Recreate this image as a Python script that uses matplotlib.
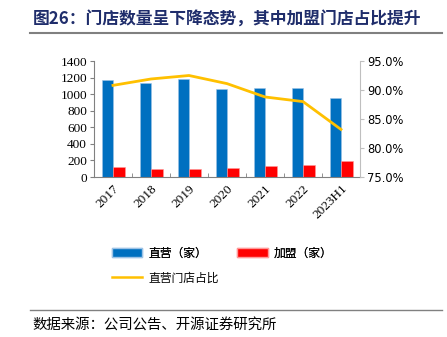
import matplotlib
matplotlib.use("Agg")
import matplotlib.pyplot as plt
import numpy as np
from matplotlib.patches import Patch
from matplotlib.lines import Line2D

categories = ["2017", "2018", "2019", "2020", "2021", "2022", "2023H1"]
direct = [1170, 1140, 1180, 1060, 1080, 1080, 950]
franchise = [120, 100, 95, 105, 136, 148, 193]
direct_ratio = [90.8, 91.9, 92.5, 91.1, 88.8, 88.0, 83.2]
left_ticks = [0, 200, 400, 600, 800, 1000, 1200, 1400]
right_ticks = [75, 80, 85, 90, 95]

CJK = ["Noto Sans CJK SC", "DejaVu Sans"]
SERIF = "Liberation Serif"

fig = plt.figure(figsize=(4.47, 3.37), dpi=100)
W, H = 447, 337
ax = fig.add_axes([94 / W, 1 - 177 / H, (360 - 94) / W, (177 - 61) / H])
ax2 = ax.twinx()

blue = "#0070C0"
red = "#FF0000"
gold = "#FFC000"

x = np.arange(len(categories))
bw = 0.29
ax.bar(x - bw / 2, direct, width=bw, color=blue, edgecolor="#9DC3E6", linewidth=0.4, zorder=2)
ax.bar(x + bw / 2 + 0.01, franchise, width=bw + 0.02, color=red, edgecolor="#FF9999", linewidth=0.4, zorder=2)
ax2.plot(x, direct_ratio, color=gold, linewidth=2, zorder=3)

ax.set_xlim(-0.5, len(categories) - 0.5)
ax.set_ylim(0, 1400)
ax.set_yticks(left_ticks)
ax.set_yticklabels([str(v) for v in left_ticks], fontfamily=SERIF, fontsize=9.5)
ax2.set_ylim(75, 95)
ax2.set_yticks(right_ticks)
ax2.set_yticklabels([f"{v:.1f}%" for v in right_ticks], fontfamily="DejaVu Sans", fontsize=8.3)

ax.set_xticks(x)
ax.set_xticklabels(categories, rotation=45, ha="right", rotation_mode="anchor",
                   fontfamily=SERIF, fontsize=9.5)
ax.tick_params(axis="x", length=0, pad=4)
ax.set_xticks(np.arange(len(categories) + 1) - 0.5, minor=True)
ax.tick_params(axis="x", which="minor", direction="in", length=3, color="#808080")
ax.tick_params(axis="y", direction="out", length=3, color="#808080", pad=2)
ax2.tick_params(axis="y", direction="out", length=3, color="#BFBFBF", pad=2)

for a in (ax, ax2):
    a.spines["top"].set_visible(False)
ax.spines["left"].set_color("#808080")
ax.spines["bottom"].set_color("#808080")
ax.spines["right"].set_visible(False)
ax2.spines["left"].set_visible(False)
ax2.spines["bottom"].set_visible(False)
ax2.spines["right"].set_color("#BFBFBF")

# legend
handles1 = [Patch(facecolor=blue, edgecolor="#9DC3E6"), Patch(facecolor=red, edgecolor="#FF9999")]
leg1 = fig.legend(handles1, ["直营（家）", "加盟（家）"], ncol=2, frameon=False,
                  loc="center left", bbox_to_anchor=(112 / W, 1 - 253 / H),
                  prop={"family": CJK, "size": 8.5}, handlelength=2.55, handleheight=0.9,
                  columnspacing=2.6, handletextpad=0.5, borderpad=0.0, borderaxespad=0.0)
fig.add_artist(leg1)
fig.legend([Line2D([0], [0], color=gold, linewidth=1.8)], ["直营门店占比"], frameon=False,
           loc="center left", bbox_to_anchor=(112 / W, 1 - 278 / H),
           prop={"family": CJK, "size": 8.5}, handlelength=2.55, handletextpad=0.5,
           borderpad=0.0, borderaxespad=0.0)

# title and source
fig.text(33 / W, 1 - 20 / H, "图26：门店数量呈下降态势，其中加盟门店占比提升",
         fontfamily=CJK, fontsize=12.1, fontweight="bold", color="#1F2D6B",
         va="center", ha="left")
fig.add_artist(Line2D([30 / W, 442 / W], [1 - 33 / H, 1 - 33 / H], color="#808080", linewidth=1.5))
fig.add_artist(Line2D([30 / W, 442 / W], [1 - 310 / H, 1 - 310 / H], color="#808080", linewidth=1.0))
fig.text(32 / W, 1 - 325 / H, "数据来源：公司公告、开源证券研究所",
         fontfamily=CJK, fontsize=10.4, color="#000000", va="center", ha="left")

fig.savefig("out.png", dpi=100)
